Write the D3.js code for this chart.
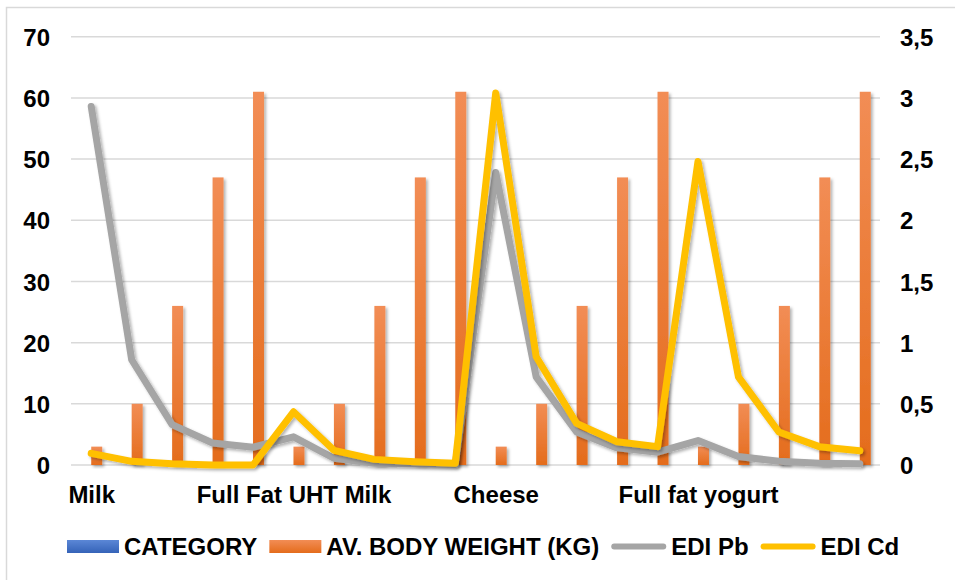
<!DOCTYPE html>
<html>
<head>
<meta charset="utf-8">
<script src="https://cdn.jsdelivr.net/npm/d3@7"></script>
<style>
  html, body { margin: 0; padding: 0; background: #fff; }
  svg text { font-family: "Liberation Sans", Arial, sans-serif; font-weight: bold; fill: #000; }
</style>
</head>
<body>
<svg id="chart" width="955" height="580"></svg>
<script>
// ---- data ----
const categoryLabels = ["Milk", "", "", "", "", "Full Fat UHT Milk", "", "", "", "", "Cheese", "", "", "", "", "Full fat yogurt", "", "", "", ""];
const categoryValues = [0,0,0,0,0, 0,0,0,0,0, 0,0,0,0,0, 0,0,0,0,0];
const bodyWeight = [3, 10, 26, 47, 61, 3, 10, 26, 47, 61, 3, 10, 26, 47, 61, 3, 10, 26, 47, 61];
const ediPb = [2.93, 0.86, 0.33, 0.18, 0.145, 0.23, 0.055, 0.015, 0.01, 0.005, 2.39, 0.72, 0.27, 0.14, 0.105, 0.2, 0.07, 0.03, 0.015, 0.01];
const ediCd = [0.095, 0.03, 0.01, 0, 0, 0.435, 0.12, 0.046, 0.027, 0.015, 3.04, 0.885, 0.34, 0.19, 0.15, 2.48, 0.72, 0.27, 0.15, 0.117];
const leftTicks = [0, 10, 20, 30, 40, 50, 60, 70];
const rightTicks = [0, 0.5, 1, 1.5, 2, 2.5, 3, 3.5];
const seriesNames = ["CATEGORY", "AV. BODY WEIGHT (KG)", "EDI Pb", "EDI Cd"];
const colors = { blue: "#4472C4", orange: "#ED7D31", gray: "#A5A5A5", yellow: "#FFC000" };

// ---- layout ----
const svg = d3.select("#chart");
const plot = { left: 71, right: 880, top: 36.7, bottom: 465 };
const fontSize = 24;
const fontFam = '"Liberation Sans", Arial, sans-serif';

// border
svg.append("rect").attr("x", 6.5).attr("y", 7.5).attr("width", 980).attr("height", 600)
  .attr("fill", "none").attr("stroke", "#D9D9D9").attr("stroke-width", 1.5);

const defs = svg.append("defs");
const og = defs.append("linearGradient").attr("id", "gOrange").attr("x1", 0).attr("y1", 0).attr("x2", 0).attr("y2", 1);
og.append("stop").attr("offset", "0%").attr("stop-color", "#F28D55");
og.append("stop").attr("offset", "100%").attr("stop-color", "#E46C1C");
const bg = defs.append("linearGradient").attr("id", "gBlue").attr("x1", 0).attr("y1", 0).attr("x2", 0).attr("y2", 1);
bg.append("stop").attr("offset", "0%").attr("stop-color", "#5B87D6");
bg.append("stop").attr("offset", "100%").attr("stop-color", "#3563B8");
const sh = defs.append("filter").attr("id", "shadow").attr("x", "-50%").attr("y", "-20%").attr("width", "200%").attr("height", "140%");
sh.append("feDropShadow").attr("dx", 2).attr("dy", 2).attr("stdDeviation", 1.8).attr("flood-color", "#000").attr("flood-opacity", 0.3);

const idx = d3.range(categoryLabels.length);
const x0 = d3.scaleBand().domain(idx).range([plot.left, plot.right]).paddingInner(0.456).paddingOuter(0.228);
const x1 = d3.scaleBand().domain([seriesNames[0], seriesNames[1]]).range([0, x0.bandwidth()]);
const xc = i => x0(i) + x0.bandwidth() / 2;
const yL = d3.scaleLinear().domain([0, 70]).range([plot.bottom, plot.top]);
const yR = d3.scaleLinear().domain([0, 3.5]).range([plot.bottom, plot.top]);

// gridlines
svg.append("g").selectAll("line").data(leftTicks).join("line")
  .attr("x1", plot.left).attr("x2", plot.right)
  .attr("y1", d => yL(d)).attr("y2", d => yL(d))
  .attr("stroke", "#D9D9D9").attr("stroke-width", 1.5);

function styleText(sel) {
  sel.attr("font-size", fontSize).style("font-family", fontFam).style("font-weight", "bold").attr("fill", "#000");
}

// left axis
const leftAxis = d3.axisLeft(yL).tickValues(leftTicks).tickSize(0).tickPadding(0).tickFormat(d3.format("d"));
const gL = svg.append("g").attr("transform", `translate(50,0)`).call(leftAxis);
gL.select(".domain").remove();
gL.selectAll("text").attr("dy", "0.36em").call(styleText);

// right axis
const loc = d3.formatLocale({ decimal: ",", thousands: ".", grouping: [3], currency: ["", ""] });
const fmtR = loc.format("~g");
const rightAxis = d3.axisRight(yR).tickValues(rightTicks).tickSize(0).tickPadding(0).tickFormat(fmtR);
const gR = svg.append("g").attr("transform", `translate(900,0)`).call(rightAxis);
gR.select(".domain").remove();
gR.selectAll("text").attr("dy", "0.36em").call(styleText);

// category axis
const bottomAxis = d3.axisBottom(d3.scalePoint().domain(idx).range([xc(0), xc(idx.length - 1)]))
  .tickSize(0).tickPadding(0).tickFormat(i => categoryLabels[i]);
const gB = svg.append("g").attr("transform", `translate(0,486)`).call(bottomAxis);
gB.select(".domain").remove();
gB.selectAll("text").attr("dy", "0.72em").call(styleText);

// bars
const barsG = svg.append("g");
barsG.selectAll("rect.cat").data(idx).join("rect").attr("class", "cat")
  .attr("x", i => x0(i) + x1(seriesNames[0])).attr("width", x1.bandwidth())
  .attr("y", i => yL(categoryValues[i])).attr("height", i => yL(0) - yL(categoryValues[i]))
  .attr("fill", "url(#gBlue)");
barsG.selectAll("rect.bw").data(idx).join("rect").attr("class", "bw")
  .attr("x", i => x0(i) + x1(seriesNames[1])).attr("width", x1.bandwidth())
  .attr("y", i => yL(bodyWeight[i])).attr("height", i => yL(0) - yL(bodyWeight[i]))
  .attr("fill", "url(#gOrange)").attr("filter", "url(#shadow)");

// lines
const line = d3.line().x(d => d[0]).y(d => d[1]);
svg.append("path").datum(idx.map(i => [xc(i), yR(ediPb[i])]))
  .attr("d", line).attr("fill", "none").attr("stroke", colors.gray).attr("stroke-width", 7)
  .attr("stroke-linecap", "round").attr("stroke-linejoin", "round").attr("filter", "url(#shadow)");
svg.append("path").datum(idx.map(i => [xc(i), yR(ediCd[i])]))
  .attr("d", line).attr("fill", "none").attr("stroke", colors.yellow).attr("stroke-width", 7)
  .attr("stroke-linecap", "round").attr("stroke-linejoin", "round").attr("filter", "url(#shadow)");

// legend
const legend = svg.append("g").attr("transform", "translate(67,546.5)");
let lx = 0;
const items = [
  { name: seriesNames[0], type: "rect", fill: "url(#gBlue)" },
  { name: seriesNames[1], type: "rect", fill: "url(#gOrange)" },
  { name: seriesNames[2], type: "line", stroke: colors.gray },
  { name: seriesNames[3], type: "line", stroke: colors.yellow }
];
items.forEach((it) => {
  const g = legend.append("g").attr("transform", `translate(${lx},0)`);
  let sw;
  if (it.type === "rect") {
    sw = 52;
    g.append("rect").attr("x", 0).attr("y", -6.5).attr("width", sw).attr("height", 13).attr("fill", it.fill);
  } else {
    sw = 55;
    g.append("line").attr("x1", 3).attr("x2", sw - 3).attr("y1", 0).attr("y2", 0)
      .attr("stroke", it.stroke).attr("stroke-width", 6).attr("stroke-linecap", "round");
  }
  const t = g.append("text").attr("x", sw + 5).attr("y", 0).attr("dy", "0.36em").text(it.name);
  styleText(t);
  const w = t.node().getComputedTextLength();
  lx += sw + 5 + w + 12;
});
</script>
</body>
</html>
